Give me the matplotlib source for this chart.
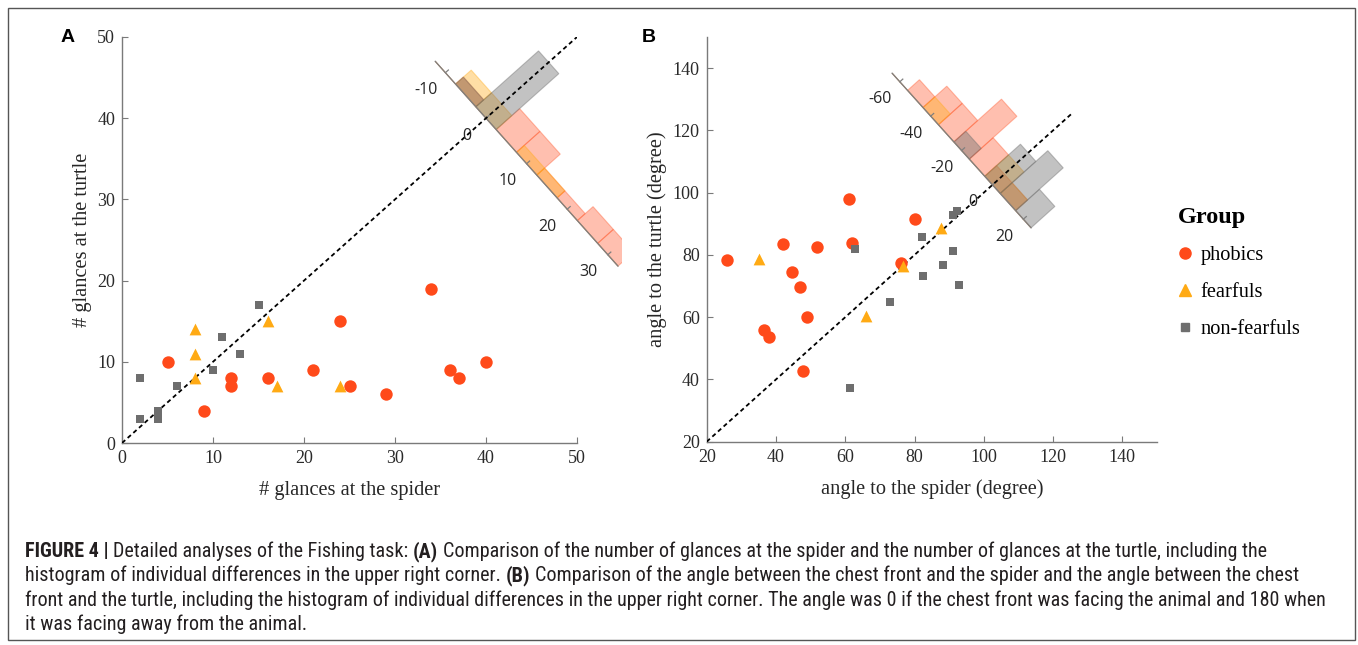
import numpy as np
import matplotlib.pyplot as plt
from matplotlib.transforms import Affine2D
from matplotlib.lines import Line2D
from matplotlib import font_manager
from matplotlib.font_manager import FontProperties

# ---- panel A: number of glances (spider, turtle) ----
pho_a_spider = [5, 9, 12, 12, 16, 21, 24, 25, 29, 34, 36, 37, 40]
pho_a_turtle = [10, 4, 8, 7, 8, 9, 15, 7, 6, 19, 9, 8, 10]
fea_a_spider = [8, 8, 8, 16, 17, 24]
fea_a_turtle = [14, 11, 8, 15, 7, 7]
non_a_spider = [2, 2, 4, 4, 6, 10, 11, 13, 15]
non_a_turtle = [8, 3, 4, 3, 7, 9, 13, 11, 17]

# ---- panel B: angle to the animal (spider, turtle) ----
pho_b_spider = [26.0, 36.6, 38.1, 42.1, 44.6, 46.8, 48.9, 47.8, 51.7, 61.1, 61.9, 76.2, 80.0]
pho_b_turtle = [78.5, 55.8, 53.5, 83.4, 74.5, 69.7, 60.1, 42.8, 82.5, 97.9, 83.9, 77.4, 91.4]
fea_b_spider = [35.2, 66.0, 76.6, 87.6]
fea_b_turtle = [78.8, 60.4, 76.4, 88.8]
non_b_spider = [62.9, 82.2, 91.0, 88.3, 82.5, 92.7, 72.9, 61.5, 92.2, 91.1]
non_b_turtle = [81.8, 85.8, 81.3, 76.6, 73.3, 70.2, 64.9, 37.3, 94.1, 92.7]

group_names = ["phobics", "fearfuls", "non-fearfuls"]
hist_ticks_a = [-10, 0, 10, 20, 30]
hist_ticks_b = [-60, -40, -20, 0, 20]

# styles
colors = ["#FF4A1A", "#FFAA14", "#6E6E6E"]
markers = ["o", "^", "s"]
sizes = [80, 72, 34]
bar_alpha = [0.35, 0.38, 0.42]

SERIF = "Liberation Serif"
SANS = "Open Sans"

W, H = 1358, 645
fig = plt.figure(figsize=(W / 100, H / 100), dpi=100)


def px_axes(l, t, r, b):
    return fig.add_axes([l / W, 1 - b / H, (r - l) / W, (b - t) / H])


def style_axes(ax):
    for s in ["top", "right"]:
        ax.spines[s].set_visible(False)
    for s in ["left", "bottom"]:
        ax.spines[s].set_color("#7A7A7A")
        ax.spines[s].set_linewidth(1.0)
    ax.tick_params(direction="in", length=4, color="#7A7A7A", labelcolor="#2A2A2A",
                   labelsize=13, pad=5)
    for lab in ax.get_xticklabels() + ax.get_yticklabels():
        lab.set_fontfamily(SERIF)


def diag_hist(ax, diffs, edges, origin, px_unit, px_count, ticks, base, lab_off, clip_x=None):
    # rotated histogram: u = difference along the anti-diagonal, v = count along the diagonal
    bb = ax.get_window_extent()
    x0, x1 = ax.get_xlim()
    y0, y1 = ax.get_ylim()
    ppx, ppy = bb.width / (x1 - x0), bb.height / (y1 - y0)
    diag = np.array([ppx, ppy]) / np.hypot(ppx, ppy)
    perp = np.array([diag[1], -diag[0]])
    u = perp * px_unit / np.array([ppx, ppy])
    v = diag * px_count / np.array([ppx, ppy])
    tr = Affine2D(np.array([[u[0], v[0], origin[0]],
                            [u[1], v[1], origin[1]],
                            [0, 0, 1]])) + ax.transData
    cx = W if clip_x is None else clip_x
    clip = plt.Rectangle((0, 0), cx / W, 1, transform=fig.transFigure, visible=False)
    for d, c, a in zip(diffs, colors, bar_alpha):
        counts, _ = np.histogram(d, bins=edges)
        bars = ax.bar(edges[:-1], counts, width=np.diff(edges), align="edge", transform=tr,
                      facecolor=c, alpha=a, edgecolor=c, linewidth=0.8, zorder=1)
        for p in bars:
            p.set_clip_path(clip)
    ln, = ax.plot(base, [0, 0], transform=tr, color="#808080", lw=0.9, zorder=2)
    ln.set_clip_path(clip)
    tl = 4.0 / px_count
    for t in ticks:
        ax.plot([t, t], [0, tl], transform=tr, color="#808080", lw=0.9, clip_on=False, zorder=2)
        off = -diag * lab_off
        ax.annotate(str(t), xy=(t, 0), xycoords=tr, xytext=(off[0], off[1]),
                    textcoords="offset pixels", ha="center", va="center",
                    fontsize=11.5, family=SANS, color="#262626", annotation_clip=False)


def scatter_groups(ax, xs, ys):
    for x, y, c, m, s in zip(xs, ys, colors, markers, sizes):
        ax.scatter(x, y, s=s, c=c, marker=m, linewidths=0, zorder=4, clip_on=False)


# ---------------- panel A ----------------
axA = px_axes(122, 37, 577, 443)
axA.set_xlim(0, 50)
axA.set_ylim(0, 50)
axA.set_xticks(range(0, 51, 10))
axA.set_yticks(range(0, 51, 10))
style_axes(axA)
axA.plot([0, 50], [0, 50], color="black", lw=1.3, ls=(0, (2.4, 1.8)), zorder=3)
scatter_groups(axA, [pho_a_spider, fea_a_spider, non_a_spider],
               [pho_a_turtle, fea_a_turtle, non_a_turtle])
diffs_a = [np.array(a) - np.array(b) for a, b in
           [(pho_a_spider, pho_a_turtle), (fea_a_spider, fea_a_turtle), (non_a_spider, non_a_turtle)]]
diag_hist(axA, diffs_a, np.arange(-12.5, 33, 5), (40, 40), 6.1, 10.5,
          hist_ticks_a, [-12.5, 32.5], 26, clip_x=622)
axA.set_xlabel("# glances at the spider", family=SERIF, fontsize=14.7, color="#262626", labelpad=10)
axA.set_ylabel("# glances at the turtle", family=SERIF, fontsize=14.7, color="#262626", labelpad=4)

# ---------------- panel B ----------------
axB = px_axes(706.7, 37, 1157, 441.7)
axB.set_xlim(20, 150)
axB.set_ylim(20, 150)
axB.set_xticks(range(20, 141, 20))
axB.set_yticks(range(20, 141, 20))
style_axes(axB)
axB.plot([20, 125.5], [20, 125.5], color="black", lw=1.3, ls=(0, (2.4, 1.8)), zorder=3)
scatter_groups(axB, [pho_b_spider, fea_b_spider, non_b_spider],
               [pho_b_turtle, fea_b_turtle, non_b_turtle])
diffs_b = [np.array(a) - np.array(b) for a, b in
           [(pho_b_spider, pho_b_turtle), (fea_b_spider, fea_b_turtle), (non_b_spider, non_b_turtle)]]
diag_hist(axB, diffs_b, np.arange(-65, 26, 10), (102.5, 102.5), 2.31, 16.0,
          hist_ticks_b, [-65, 25], 26)
axB.set_xlabel("angle to the spider (degree)", family=SERIF, fontsize=14.7, color="#262626", labelpad=10)
axB.set_ylabel("angle to the turtle (degree)", family=SERIF, fontsize=14.7, color="#262626", labelpad=4)

# panel letters
fig.text(68 / W, 1 - 37 / H, "A", family="Liberation Sans", weight="bold", fontsize=14,
         ha="center", va="center")
fig.text(649 / W, 1 - 37 / H, "B", family="Liberation Sans", weight="bold", fontsize=14,
         ha="center", va="center")

# legend
handles = [Line2D([], [], ls="none", marker=m, color=c, markersize=ms)
           for m, c, ms in zip(markers, colors, [8, 8, 5.5])]
leg = fig.legend(handles, group_names, loc="upper left", bbox_to_anchor=(1178 / W, 1 - 207 / H),
                 frameon=False, prop={"family": SERIF, "size": 14.7}, title="Group",
                 title_fontproperties={"family": SERIF, "size": 17.5, "weight": "bold"},
                 alignment="left", handlelength=0.7, handletextpad=0.4, labelspacing=0.87,
                 borderaxespad=0, borderpad=0)

# frame around the figure and caption
frame = plt.Rectangle((8 / W, 1 - 640 / H), (1355 - 8) / W, (640 - 8) / H, transform=fig.transFigure,
                      fill=False, edgecolor="#555555", lw=1.0)
fig.patches.append(frame)

# caption with mixed bold/regular runs; right end of each line in the reference
cap_lines = [
    [("FIGURE 4 |", True), ("Detailed analyses of the Fishing task:", False), ("(A)", True),
     ("Comparison of the number of glances at the spider and the number of glances at the turtle, including the", False)],
    [("histogram of individual differences in the upper right corner.", False), ("(B)", True),
     ("Comparison of the angle between the chest front and the spider and the angle between the chest", False)],
    [("front and the turtle, including the histogram of individual differences in the upper right corner. The angle was 0 if the chest front was facing the animal and 180 when", False)],
    [("it was facing away from the animal.", False)],
]
cap_line_ends = [1293, 1316, 1323, None]

# a condensed sans if one is installed, else plain Liberation Sans
cap_props = {"family": "Liberation Sans"}
for fam, extra in [("Liberation Sans Narrow", {}), ("Roboto Condensed", {}),
                   ("Open Sans Condensed", {}), ("Noto Sans Condensed", {}),
                   ("Noto Sans", {"stretch": "condensed"}), ("Open Sans", {"stretch": "condensed"})]:
    try:
        path = font_manager.findfont(FontProperties(family=fam, **extra), fallback_to_default=False)
    except Exception:
        continue
    if "ondensed" in path or "arrow" in path:
        cap_props = {"family": fam, **extra}
        break

renderer = fig.canvas.get_renderer()


def text_w(s, size, bold):
    t = fig.text(0, 0, s, fontsize=size, weight="bold" if bold else "normal", **cap_props)
    w = t.get_window_extent(renderer).width
    t.remove()
    return w


def line_w(segs, size):
    sp = text_w("a a", size, False) - text_w("aa", size, False)
    return sum(text_w(s, size, b) for s, b in segs) + sp * (len(segs) - 1)


base_size = 11.0
cap_size = min(base_size * (end - 25) / line_w(segs, base_size)
               for segs, end in zip(cap_lines, cap_line_ends) if end is not None)
space = text_w("a a", cap_size, False) - text_w("aa", cap_size, False)
for i, segs in enumerate(cap_lines):
    x = 25
    y = 557 + i * 24.3
    for s, b in segs:
        t = fig.text(x / W, 1 - y / H, s, fontsize=cap_size,
                     weight="bold" if b else "normal", color="#231F20", va="baseline", **cap_props)
        x += t.get_window_extent(renderer).width + space

fig.savefig("out.png", dpi=100)
